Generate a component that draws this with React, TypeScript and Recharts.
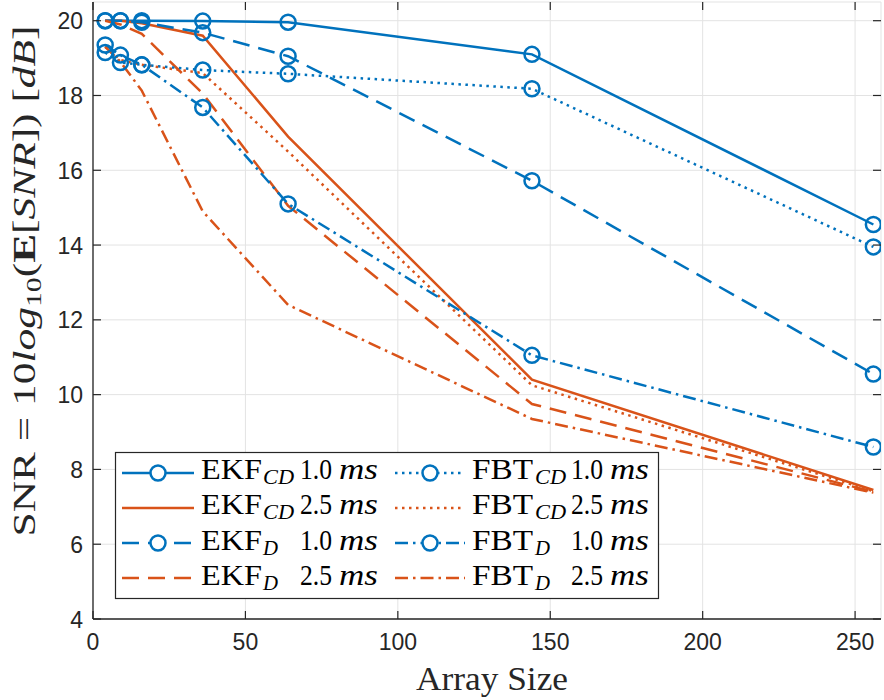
import React from 'react';
import { LineChart, Line, XAxis, YAxis, CartesianGrid } from 'recharts';

const BLUE = '#0072BD';
const ORANGE = '#D95319';
const AXIS = '#262626';

// ---- data ----
const ARRAY_SIZES = [4, 9, 16, 36, 64, 144, 256];
const EKF_CD_10 = [20.0, 20.0, 20.0, 19.99, 19.96, 19.1, 14.55];
const EKF_CD_25 = [20.0, 20.0, 19.93, 19.6, 16.9, 10.4, 7.45];
const EKF_D_10 = [20.0, 20.0, 19.96, 19.68, 19.05, 15.72, 10.55];
const EKF_D_25 = [20.0, 19.9, 19.65, 18.05, 15.05, 9.75, 7.4];
const FBT_CD_10 = [19.15, 18.88, 18.82, 18.68, 18.58, 18.18, 13.95];
const FBT_CD_25 = [19.3, 18.95, 18.82, 18.6, 16.5, 10.25, 7.42];
const FBT_D_10 = [19.35, 19.08, 18.82, 17.68, 15.1, 11.05, 8.6];
const FBT_D_25 = [19.3, 18.9, 18.13, 14.9, 12.4, 9.35, 7.38];

const X_TICKS = [0, 50, 100, 150, 200, 250];
const Y_TICKS = [4, 6, 8, 10, 12, 14, 16, 18, 20];

// ---- styles ----
const SOLID = undefined;
const DASHED = '17 9';
const DOTTED = '2.5 4.5';
const DASHDOT = '13 5 2.5 5';

const SERIES = [
  { key: 'ekfCd10', values: EKF_CD_10, color: BLUE, dash: SOLID, marker: true, method: 'EKF', sub: 'CD', dt: '1.0' },
  { key: 'ekfCd25', values: EKF_CD_25, color: ORANGE, dash: SOLID, marker: false, method: 'EKF', sub: 'CD', dt: '2.5' },
  { key: 'ekfD10', values: EKF_D_10, color: BLUE, dash: DASHED, marker: true, method: 'EKF', sub: 'D', dt: '1.0' },
  { key: 'ekfD25', values: EKF_D_25, color: ORANGE, dash: DASHED, marker: false, method: 'EKF', sub: 'D', dt: '2.5' },
  { key: 'fbtCd10', values: FBT_CD_10, color: BLUE, dash: DOTTED, marker: true, method: 'FBT', sub: 'CD', dt: '1.0' },
  { key: 'fbtCd25', values: FBT_CD_25, color: ORANGE, dash: DOTTED, marker: false, method: 'FBT', sub: 'CD', dt: '2.5' },
  { key: 'fbtD10', values: FBT_D_10, color: BLUE, dash: DASHDOT, marker: true, method: 'FBT', sub: 'D', dt: '1.0' },
  { key: 'fbtD25', values: FBT_D_25, color: ORANGE, dash: DASHDOT, marker: false, method: 'FBT', sub: 'D', dt: '2.5' },
];

const data = ARRAY_SIZES.map((x, i) => {
  const row: Record<string, number> = { x };
  SERIES.forEach((s) => {
    row[s.key] = s.values[i];
  });
  return row;
});

// ---- layout ----
const W = 884;
const H = 700;
const PLOT_TOP = 2;
const PLOT_LEFT = 93;
const PLOT_RIGHT = 881;
const PLOT_BOTTOM = 619;
const TICK_LEN = 8;
const SANS = 'Liberation Sans, Arial, Helvetica, sans-serif';
const SERIF = 'Liberation Serif, Times New Roman, serif';

const XTick = (props: any) => {
  const { x, payload } = props;
  return (
    <g>
      <line x1={x} x2={x} y1={PLOT_BOTTOM} y2={PLOT_BOTTOM - TICK_LEN} stroke={AXIS} strokeWidth={1.2} />
      <line x1={x} x2={x} y1={PLOT_TOP} y2={PLOT_TOP + TICK_LEN} stroke={AXIS} strokeWidth={1.2} />
      <text x={x} y={650} textAnchor="middle" fontFamily={SANS} fontSize={23} fill={AXIS}>
        {payload.value}
      </text>
    </g>
  );
};

const YTick = (props: any) => {
  const { y, payload } = props;
  return (
    <g>
      <line x1={PLOT_LEFT} x2={PLOT_LEFT + TICK_LEN} y1={y} y2={y} stroke={AXIS} strokeWidth={1.2} />
      <line x1={PLOT_RIGHT} x2={PLOT_RIGHT - TICK_LEN} y1={y} y2={y} stroke={AXIS} strokeWidth={1.2} />
      <text x={83} y={y + 8.5} textAnchor="end" fontFamily={SANS} fontSize={23} fill={AXIS}>
        {payload.value}
      </text>
    </g>
  );
};

const XLabel = () => (
  <text x={416} y={690} fontFamily={SERIF} fontSize={34} fill={AXIS} textLength={152} lengthAdjust="spacingAndGlyphs">
    Array Size
  </text>
);

const YLabel = () => (
  <text
    transform="translate(35,281) rotate(-90)"
    textAnchor="middle"
    fontFamily={SERIF}
    fontSize={32}
    fill={AXIS}
    textLength={511}
    lengthAdjust="spacingAndGlyphs"
  >
    <tspan>SNR = 10</tspan>
    <tspan fontStyle="italic">log</tspan>
    <tspan fontSize={22} dy={6}>10</tspan>
    <tspan dy={-6}>(</tspan>
    <tspan fontWeight="bold">E</tspan>
    <tspan>[</tspan>
    <tspan fontStyle="italic">SNR</tspan>
    <tspan>]) [</tspan>
    <tspan fontStyle="italic">dB</tspan>
    <tspan>]</tspan>
  </text>
);

// legend geometry
const LEG = { x: 115.5, y: 452.5, w: 543, h: 146 };
const ROW_MARK_Y = [473, 508, 543, 578];
const ROW_BASE_Y = [479, 514.3, 549.6, 584.9];
const COLS = [
  { lineX1: 122, lineX2: 194, methodX: 201, methodW: 61, subX: 263, dtX: 300, msX: 339 },
  { lineX1: 395, lineX2: 465, methodX: 472, methodW: 61, subX: 535, dtX: 571, msX: 610 },
];

const LegendBox = () => (
  <svg width={W} height={H} style={{ position: 'absolute', left: 0, top: 0, pointerEvents: 'none' }}>
    <rect x={LEG.x} y={LEG.y} width={LEG.w} height={LEG.h} fill="#fff" stroke={AXIS} strokeWidth={1.2} />
    {SERIES.map((s, i) => {
      const col = COLS[Math.floor(i / 4)];
      const row = i % 4;
      const my = ROW_MARK_Y[row];
      const by = ROW_BASE_Y[row];
      const cx = (col.lineX1 + col.lineX2) / 2;
      return (
        <g key={s.key}>
          <line x1={col.lineX1} x2={col.lineX2} y1={my} y2={my} stroke={s.color} strokeWidth={2.5} strokeDasharray={s.dash} />
          {s.marker && <circle cx={cx} cy={my} r={7.5} fill="#fff" stroke={s.color} strokeWidth={2.5} />}
          <text x={col.methodX} y={by} fontFamily={SERIF} fontSize={29} fill="#000" textLength={col.methodW} lengthAdjust="spacingAndGlyphs">
            {s.method}
          </text>
          <text
            x={col.subX}
            y={by + 5}
            fontFamily={SERIF}
            fontStyle="italic"
            fontSize={20}
            fill="#000"
            textLength={s.sub === 'CD' ? 31 : 15}
            lengthAdjust="spacingAndGlyphs"
          >
            {s.sub}
          </text>
          <text x={col.dtX} y={by} fontFamily={SERIF} fontSize={29} fill="#000" textLength={32} lengthAdjust="spacingAndGlyphs">
            {s.dt}
          </text>
          <text x={col.msX} y={by} fontFamily={SERIF} fontStyle="italic" fontSize={29} fill="#000" textLength={39} lengthAdjust="spacingAndGlyphs">
            ms
          </text>
        </g>
      );
    })}
  </svg>
);

export default function App() {
  return (
    <div style={{ position: 'absolute', left: 0, top: 0, width: W, height: H, background: '#fff' }}>
      <LineChart width={W} height={H} data={data} margin={{ top: PLOT_TOP, right: W - PLOT_RIGHT, bottom: 0, left: 0 }}>
        <CartesianGrid stroke="#e3e3e3" strokeWidth={1} />
        <XAxis
          dataKey="x"
          type="number"
          domain={[0, 258.5]}
          ticks={X_TICKS}
          interval={0}
          allowDataOverflow
          height={H - PLOT_BOTTOM}
          tickLine={false}
          tickSize={0}
          axisLine={{ stroke: AXIS, strokeWidth: 1.3 }}
          tick={<XTick />}
          label={<XLabel />}
        />
        <XAxis
          xAxisId="top"
          orientation="top"
          dataKey="x"
          type="number"
          domain={[0, 258.5]}
          ticks={X_TICKS}
          height={0}
          tick={false}
          tickLine={false}
          axisLine={{ stroke: AXIS, strokeWidth: 1.3 }}
        />
        <YAxis
          type="number"
          domain={[4, 20.5]}
          ticks={Y_TICKS}
          interval={0}
          allowDataOverflow
          width={PLOT_LEFT}
          tickLine={false}
          tickSize={0}
          axisLine={{ stroke: AXIS, strokeWidth: 1.3 }}
          tick={<YTick />}
          label={<YLabel />}
        />
        <YAxis
          yAxisId="right"
          orientation="right"
          type="number"
          domain={[4, 20.5]}
          ticks={Y_TICKS}
          width={0}
          tick={false}
          tickLine={false}
          axisLine={{ stroke: AXIS, strokeWidth: 1.3 }}
        />
        {SERIES.map((s) => (
          <Line
            key={s.key}
            dataKey={s.key}
            type="linear"
            stroke={s.color}
            strokeWidth={2.5}
            strokeDasharray={s.dash}
            isAnimationActive={false}
            dot={
              s.marker
                ? { r: 7.5, stroke: s.color, strokeWidth: 2.5, fill: 'none', strokeDasharray: 'none' }
                : false
            }
            activeDot={false}
          />
        ))}
      </LineChart>
      <LegendBox />
    </div>
  );
}
